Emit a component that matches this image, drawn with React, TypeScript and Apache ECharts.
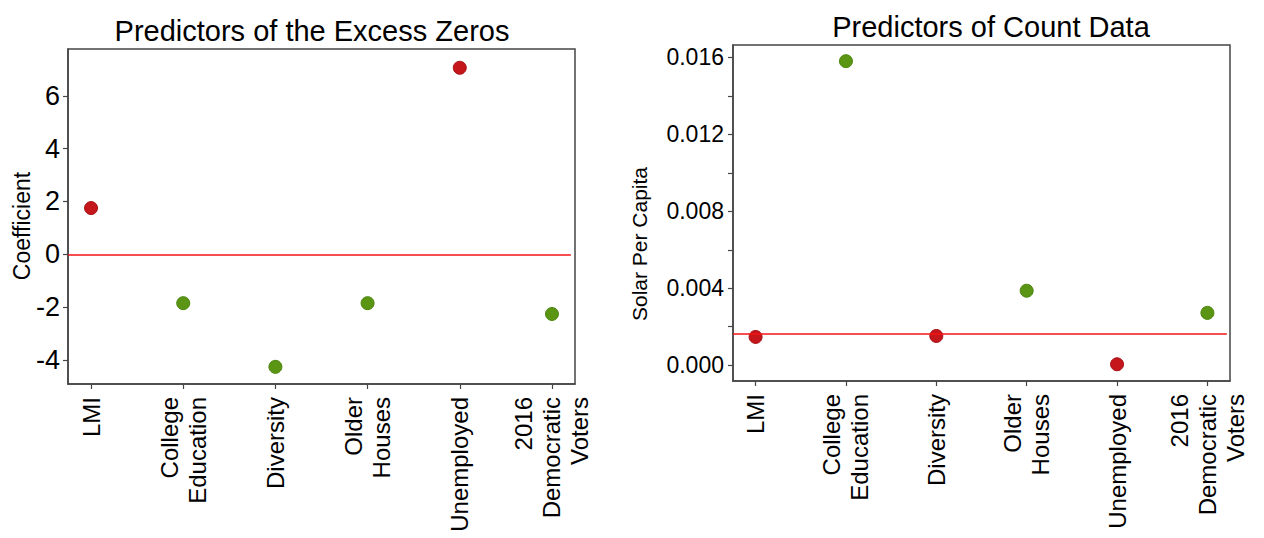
import React, { useEffect, useRef } from "react";
import * as echarts from "echarts";

// Predictor names along the x axis (shared by both panels)
const CATEGORIES = [
  "LMI",
  "College\nEducation",
  "Diversity",
  "Older\nHouses",
  "Unemployed",
  "2016\nDemocratic\nVoters",
];

// Left panel: zero-inflation coefficients
const EXCESS_ZERO_COEFS = [1.75, -1.85, -4.26, -1.85, 7.06, -2.26];
const EXCESS_ZERO_BASELINE = 0;
const EXCESS_ZERO_TICKS = [-4, -2, 0, 2, 4, 6];

// Right panel: count-model coefficients
const COUNT_COEFS = [0.00147, 0.0158, 0.00152, 0.00387, 0.00005, 0.00272];
const COUNT_BASELINE = 0.00165;
const COUNT_TICKS = [0, 0.002, 0.004, 0.006, 0.008, 0.01, 0.012, 0.014, 0.016];
const COUNT_TICK_LABELS = [0, 0.004, 0.008, 0.012, 0.016];

const FONT = "'Liberation Sans', Arial, Helvetica, sans-serif";
const RED = "#c4161b";
const GREEN = "#5a9614";
const FRAME = "#454545";
const X_MIN = -0.25;
const X_MAX = 5.25;
const X_INDEX = CATEGORIES.map((_, i) => i);

function xAxisFor(gridIndex: number) {
  return {
    type: "value",
    gridIndex,
    min: X_MIN,
    max: X_MAX,
    splitLine: { show: false },
    axisLine: { show: true, onZero: false, lineStyle: { color: FRAME, width: 1.5 } },
    axisTick: {
      show: true,
      length: 5,
      customValues: X_INDEX,
      lineStyle: { color: FRAME, width: 1.2 },
    },
    axisLabel: {
      customValues: X_INDEX,
      rotate: 90,
      margin: 13,
      fontSize: 24,
      color: "#000",
      fontFamily: FONT,
      lineHeight: 28,
      formatter: (v: number) => CATEGORIES[Math.round(v)] ?? "",
    },
  };
}

export default function App() {
  const ref = useRef<HTMLDivElement>(null);

  useEffect(() => {
    if (!ref.current) return;
    const chart = echarts.init(ref.current, null, { renderer: "svg" });

    const dot = (color: string) => ({
      color,
      opacity: 1,
      borderColor: color === RED ? "#a81216" : "#4c8510",
      borderWidth: 1,
    });

    const textStyle = (text: string, fontSize: number) => ({
      text,
      fontSize,
      fontFamily: FONT,
      fill: "#000",
      align: "center",
      verticalAlign: "middle",
    });

    chart.setOption({
      animation: false,
      backgroundColor: "#fff",
      textStyle: { fontFamily: FONT },
      graphic: [
        { type: "text", x: 312, y: 31, style: textStyle("Predictors of the Excess Zeros", 29) },
        { type: "text", x: 991, y: 27, style: textStyle("Predictors of Count Data", 29) },
        {
          type: "text",
          x: 22,
          y: 226,
          rotation: Math.PI / 2,
          style: textStyle("Coefficient", 23),
        },
        {
          type: "text",
          x: 639,
          y: 244,
          rotation: Math.PI / 2,
          style: textStyle("Solar Per Capita", 21),
        },
      ],
      grid: [
        {
          left: 68,
          top: 49,
          width: 507,
          height: 335,
          show: true,
          borderColor: FRAME,
          borderWidth: 1.5,
          backgroundColor: "transparent",
        },
        {
          left: 733,
          top: 45,
          width: 497,
          height: 336,
          show: true,
          borderColor: FRAME,
          borderWidth: 1.5,
          backgroundColor: "transparent",
        },
      ],
      xAxis: [xAxisFor(0), xAxisFor(1)],
      yAxis: [
        {
          type: "value",
          gridIndex: 0,
          min: -4.91,
          max: 7.77,
          splitLine: { show: false },
          axisLine: { show: true, onZero: false, lineStyle: { color: FRAME, width: 1.5 } },
          axisTick: {
            show: true,
            length: 5,
            customValues: EXCESS_ZERO_TICKS,
            lineStyle: { color: FRAME, width: 1.2 },
          },
          axisLabel: {
            customValues: EXCESS_ZERO_TICKS,
            fontSize: 27,
            color: "#000",
            fontFamily: FONT,
            margin: 8,
            formatter: (v: number) => String(v),
          },
        },
        {
          type: "value",
          gridIndex: 1,
          min: -0.00082,
          max: 0.01664,
          splitLine: { show: false },
          axisLine: { show: true, onZero: false, lineStyle: { color: FRAME, width: 1.5 } },
          axisTick: {
            show: true,
            length: 5,
            customValues: COUNT_TICKS,
            lineStyle: { color: FRAME, width: 1.2 },
          },
          axisLabel: {
            customValues: COUNT_TICK_LABELS,
            fontSize: 23,
            color: "#000",
            fontFamily: FONT,
            margin: 9,
            formatter: (v: number) => v.toFixed(3),
          },
        },
      ],
      series: [
        {
          type: "scatter",
          xAxisIndex: 0,
          yAxisIndex: 0,
          symbol: "circle",
          symbolSize: 13,
          data: EXCESS_ZERO_COEFS.map((v, i) => ({
            value: [i, v],
            itemStyle: dot(v > EXCESS_ZERO_BASELINE ? RED : GREEN),
          })),
          markLine: {
            silent: true,
            symbol: "none",
            label: { show: false },
            lineStyle: { color: "#f51414", width: 1.6, type: "solid", opacity: 1 },
            data: [
              [
                { coord: [X_MIN, EXCESS_ZERO_BASELINE] },
                { coord: [X_MAX - 0.045, EXCESS_ZERO_BASELINE] },
              ],
            ],
          },
          z: 3,
        },
        {
          type: "scatter",
          xAxisIndex: 1,
          yAxisIndex: 1,
          symbol: "circle",
          symbolSize: 13,
          data: COUNT_COEFS.map((v, i) => ({
            value: [i, v],
            itemStyle: dot(v > COUNT_BASELINE ? GREEN : RED),
          })),
          markLine: {
            silent: true,
            symbol: "none",
            label: { show: false },
            lineStyle: { color: "#f51414", width: 1.6, type: "solid", opacity: 1 },
            data: [
              [
                { coord: [X_MIN, COUNT_BASELINE] },
                { coord: [X_MAX - 0.035, COUNT_BASELINE] },
              ],
            ],
          },
          z: 3,
        },
      ],
    });

    return () => chart.dispose();
  }, []);

  return (
    <div
      ref={ref}
      style={{ position: "fixed", left: 0, top: 0, width: 1264, height: 538, background: "#fff" }}
    />
  );
}
